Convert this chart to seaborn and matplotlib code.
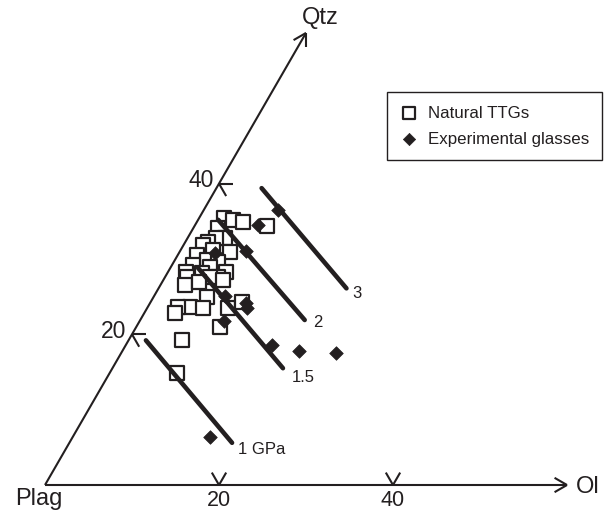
import matplotlib
matplotlib.use("Agg")
import matplotlib.pyplot as plt
import seaborn as sns
import numpy as np
import pandas as pd

# ---------------- data (ternary %: Ol, Qtz; Plag = remainder) ----------------
ttg_ol = [2.9, 4.0, 5.3, 8.3, 2.8, 4.3, 3.2, 2.6, 2.2, 3.7, 5.8, 2.2, 3.7, 5.1,
          2.4, 4.5, 2.0, 4.0, 6.6, 6.1, 2.5, 5.2, 2.8, 4.3, 6.9, 6.1, 4.9, 3.5,
          3.5, 6.4, 9.3, 10.5, 9.6, 6.2, 7.7]
ttg_qtz = [35.4, 35.2, 34.9, 34.4, 34.1, 32.8, 32.8, 32.3, 31.9, 31.2, 30.9,
           30.5, 29.9, 29.6, 29.2, 28.9, 28.3, 28.1, 28.3, 27.6, 27.6, 27.6,
           26.5, 26.9, 27.2, 25.0, 23.6, 23.6, 22.8, 23.5, 23.5, 24.3, 21.0,
           19.2, 14.9]

glass_ol = [8.5, 7.2, 7.6, 4.1, 8.1, 11.0, 11.5, 9.7, 16.8, 20.3, 24.7, 15.8]
glass_qtz = [36.5, 34.5, 31.1, 30.8, 25.1, 24.2, 23.5, 21.8, 18.6, 17.8, 17.5, 6.4]

tie_labels = ["1 GPa", "1.5", "2", "3"]
tie_ol_start = [2.0, 3.2, 2.3, 5.2]
tie_qtz_start = [19.2, 28.8, 35.2, 39.4]
tie_ol_end = [18.7, 19.6, 18.9, 21.6]
tie_qtz_end = [5.6, 15.5, 21.9, 26.1]

axis_ticks = [20, 40]
axis_max = 60
legend_labels = ["Natural TTGs", "Experimental glasses"]

INK = "#231f20"
SQ3 = np.sqrt(3) / 2


def to_xy(ol, qtz):
    ol = np.asarray(ol, dtype=float)
    qtz = np.asarray(qtz, dtype=float)
    return ol + 0.5 * qtz, qtz * SQ3


# ---------------- figure ----------------
sns.set_theme(style="white")
plt.rcParams["font.family"] = ["Liberation Sans", "DejaVu Sans"]

fig = plt.figure(figsize=(6.10, 5.13), dpi=100)
ax = fig.add_axes([0, 0, 1, 1])
S = 8.7  # px per unit
ax.set_xlim(-45 / S, 565 / S)
ax.set_ylim(-28 / S, 485 / S)
ax.axis("off")


def px(xp, yp):
    return (xp - 45) / S, (485 - yp) / S


# axes lines
lw_ax = 1.5
tipx, tipy = to_xy(0, axis_max)
ax.plot([0, axis_max], [0, 0], color=INK, lw=lw_ax, solid_capstyle="butt", zorder=1)
ax.plot([0, tipx], [0, tipy], color=INK, lw=lw_ax, solid_capstyle="butt", zorder=1)

L = 1.65  # chevron arm length (data units)


def chevron(x0, y0, angs):
    for a in angs:
        r = np.deg2rad(a)
        ax.plot([x0, x0 + L * np.cos(r)], [y0, y0 + L * np.sin(r)],
                color=INK, lw=lw_ax, solid_capstyle="butt", zorder=1)


# arrow heads
chevron(axis_max, 0, [150, 210])
chevron(tipx, tipy, [210, 270])

# ticks and tick labels
for t in axis_ticks:
    bx, by = to_xy(t, 0)
    chevron(bx, by, [60, 120])
    ax.annotate(str(t), (bx, by), xytext=(0, -3.5), textcoords="offset points",
                ha="center", va="top", fontsize=15.5, color=INK)
    qx, qy = to_xy(0, t)
    chevron(qx, qy, [0, -60])
    ax.annotate(str(t), (qx, qy), xytext=(-4, 2), textcoords="offset points",
                ha="right", va="center", fontsize=16.5, color=INK)

# apex labels
ax.text(*px(320, 18), "Qtz", ha="center", va="center", fontsize=17, color=INK)
ax.text(*px(588, 487), "Ol", ha="center", va="center", fontsize=17, color=INK)
ax.text(*px(39, 499), "Plag", ha="center", va="center", fontsize=17, color=INK)

# natural TTGs (open squares)
tx, ty = to_xy(ttg_ol, ttg_qtz)
df_ttg = pd.DataFrame({"x": tx, "y": ty})
sns.scatterplot(data=df_ttg, x="x", y="y", ax=ax, marker="s", s=100,
                color="white", edgecolor=INK, linewidth=1.6, zorder=3,
                label=legend_labels[0])

# tie lines
rows = []
for i, lab in enumerate(tie_labels):
    xs, ys = to_xy([tie_ol_start[i], tie_ol_end[i]], [tie_qtz_start[i], tie_qtz_end[i]])
    for x_, y_ in zip(xs, ys):
        rows.append({"x": x_, "y": y_, "line": lab})
df_tie = pd.DataFrame(rows)
sns.lineplot(data=df_tie, x="x", y="y", units="line", estimator=None, sort=False,
             color=INK, lw=3.3, ax=ax, zorder=4, legend=False)

label_offsets = [(4, -4.5), (6.5, -7), (6, -2), (4.5, -3.5)]
for i, lab in enumerate(tie_labels):
    ex, ey = to_xy(tie_ol_end[i], tie_qtz_end[i])
    ax.annotate(lab, (ex, ey), xytext=label_offsets[i], textcoords="offset points",
                ha="left", va="center", fontsize=12, color=INK)

# experimental glasses (filled diamonds)
gx, gy = to_xy(glass_ol, glass_qtz)
df_gl = pd.DataFrame({"x": gx, "y": gy})
sns.scatterplot(data=df_gl, x="x", y="y", ax=ax, marker="D", s=48,
                color=INK, edgecolor=INK, linewidth=0.5, zorder=5,
                label=legend_labels[1])

ax.set_xlabel("")
ax.set_ylabel("")

leg = ax.legend(loc="upper left", bbox_to_anchor=(387 / 610, 1 - 92 / 513),
                bbox_transform=fig.transFigure, borderaxespad=0, fontsize=12.2,
                frameon=True, fancybox=False, framealpha=1, edgecolor=INK,
                borderpad=0.8, handlelength=1.0, handletextpad=0.6,
                labelspacing=0.65, markerscale=0.9)
leg.get_frame().set_linewidth(1.0)
for t in leg.get_texts():
    t.set_color(INK)

fig.savefig("out.png", dpi=100)
